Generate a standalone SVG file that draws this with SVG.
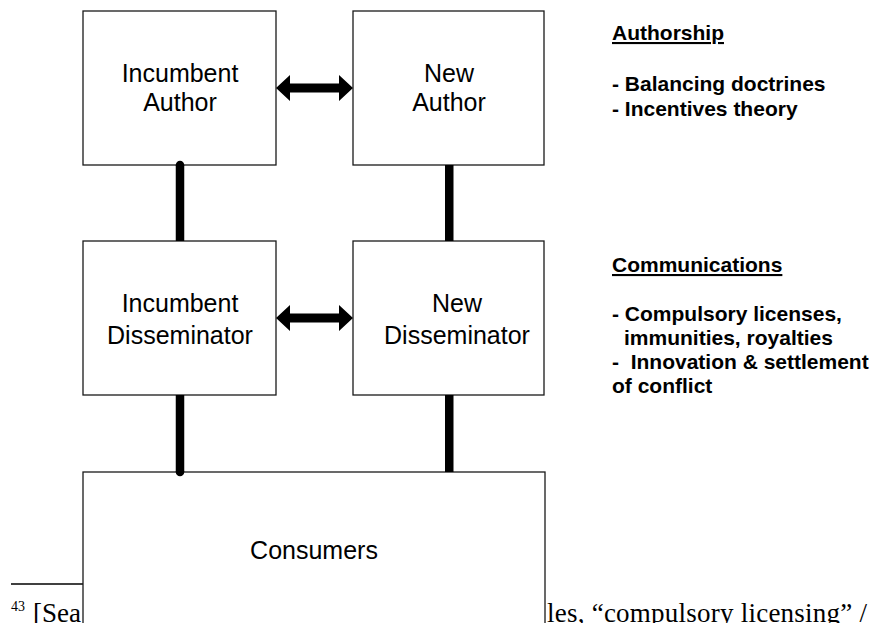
<svg xmlns="http://www.w3.org/2000/svg" width="876" height="623" viewBox="0 0 876 623">
<style>
.box{fill:#fff;stroke:#1a1a1a;stroke-width:1.3}
.lbl{font-family:"Liberation Sans",Arial,sans-serif;font-size:25px;text-anchor:middle;fill:#000}
.side{font-family:"Liberation Sans",Arial,sans-serif;font-size:21px;font-weight:bold;fill:#000}
.conn{fill:#000;stroke:none}
.foot{font-family:"Liberation Serif","Times New Roman",serif;fill:#000}
</style>
<rect width="876" height="623" fill="#fff"/>
<g id="footnote">
<line x1="11" y1="584" x2="84" y2="584" stroke="#000" stroke-width="1.4"/>
<text class="foot" x="11" y="611" font-size="14">43</text>
<text class="foot" x="33" y="622" font-size="27">[Sea</text>
<text class="foot" x="547" y="622" font-size="27" textLength="320" lengthAdjust="spacing">les, “compulsory licensing” /</text>
</g>
<g id="incumbent-author">
<rect class="box" x="83" y="11" width="193" height="154"/>
<text class="lbl" x="180" y="82">Incumbent</text>
<text class="lbl" x="180" y="111">Author</text>
</g>
<g id="new-author">
<rect class="box" x="353" y="11" width="191" height="154"/>
<text class="lbl" x="449" y="82">New</text>
<text class="lbl" x="449" y="111">Author</text>
</g>
<g id="incumbent-disseminator">
<rect class="box" x="83" y="241" width="193" height="154"/>
<text class="lbl" x="180" y="312">Incumbent</text>
<text class="lbl" x="180" y="344">Disseminator</text>
</g>
<g id="new-disseminator">
<rect class="box" x="353" y="241" width="191" height="154"/>
<text class="lbl" x="457" y="312">New</text>
<text class="lbl" x="457" y="344">Disseminator</text>
</g>
<g id="consumers">
<rect class="box" x="83" y="472" width="462" height="200"/>
<text class="lbl" x="314" y="559">Consumers</text>
</g>
<g id="connectors">
<path class="conn" d="M276,88 L290,75 L290,83.5 L339,83.5 L339,75 L353,88 L339,101 L339,92.5 L290,92.5 L290,101 Z"/>
<path class="conn" d="M276,318 L290,305 L290,313.5 L339,313.5 L339,305 L353,318 L339,331 L339,322.5 L290,322.5 L290,331 Z"/>
<rect class="conn" x="175.75" y="165" width="8.5" height="76"/>
<circle class="conn" cx="180" cy="165" r="4.25"/>
<rect class="conn" x="445" y="165" width="8.5" height="76"/>
<rect class="conn" x="175.75" y="395" width="8.5" height="77"/>
<circle class="conn" cx="180" cy="472" r="4.25"/>
<rect class="conn" x="445" y="395" width="8.5" height="77"/>
</g>
<g id="legend">
<text class="side" x="612" y="40" text-decoration="underline">Authorship</text>
<text class="side" x="612" y="91">- Balancing doctrines</text>
<text class="side" x="612" y="116">- Incentives theory</text>
<text class="side" x="612" y="272" text-decoration="underline">Communications</text>
<text class="side" x="612" y="321">- Compulsory licenses,</text>
<text class="side" x="624" y="345">immunities, royalties</text>
<text class="side" x="612" y="369" xml:space="preserve">-  Innovation &amp; settlement</text>
<text class="side" x="612" y="393">of conflict</text>
</g>
</svg>
